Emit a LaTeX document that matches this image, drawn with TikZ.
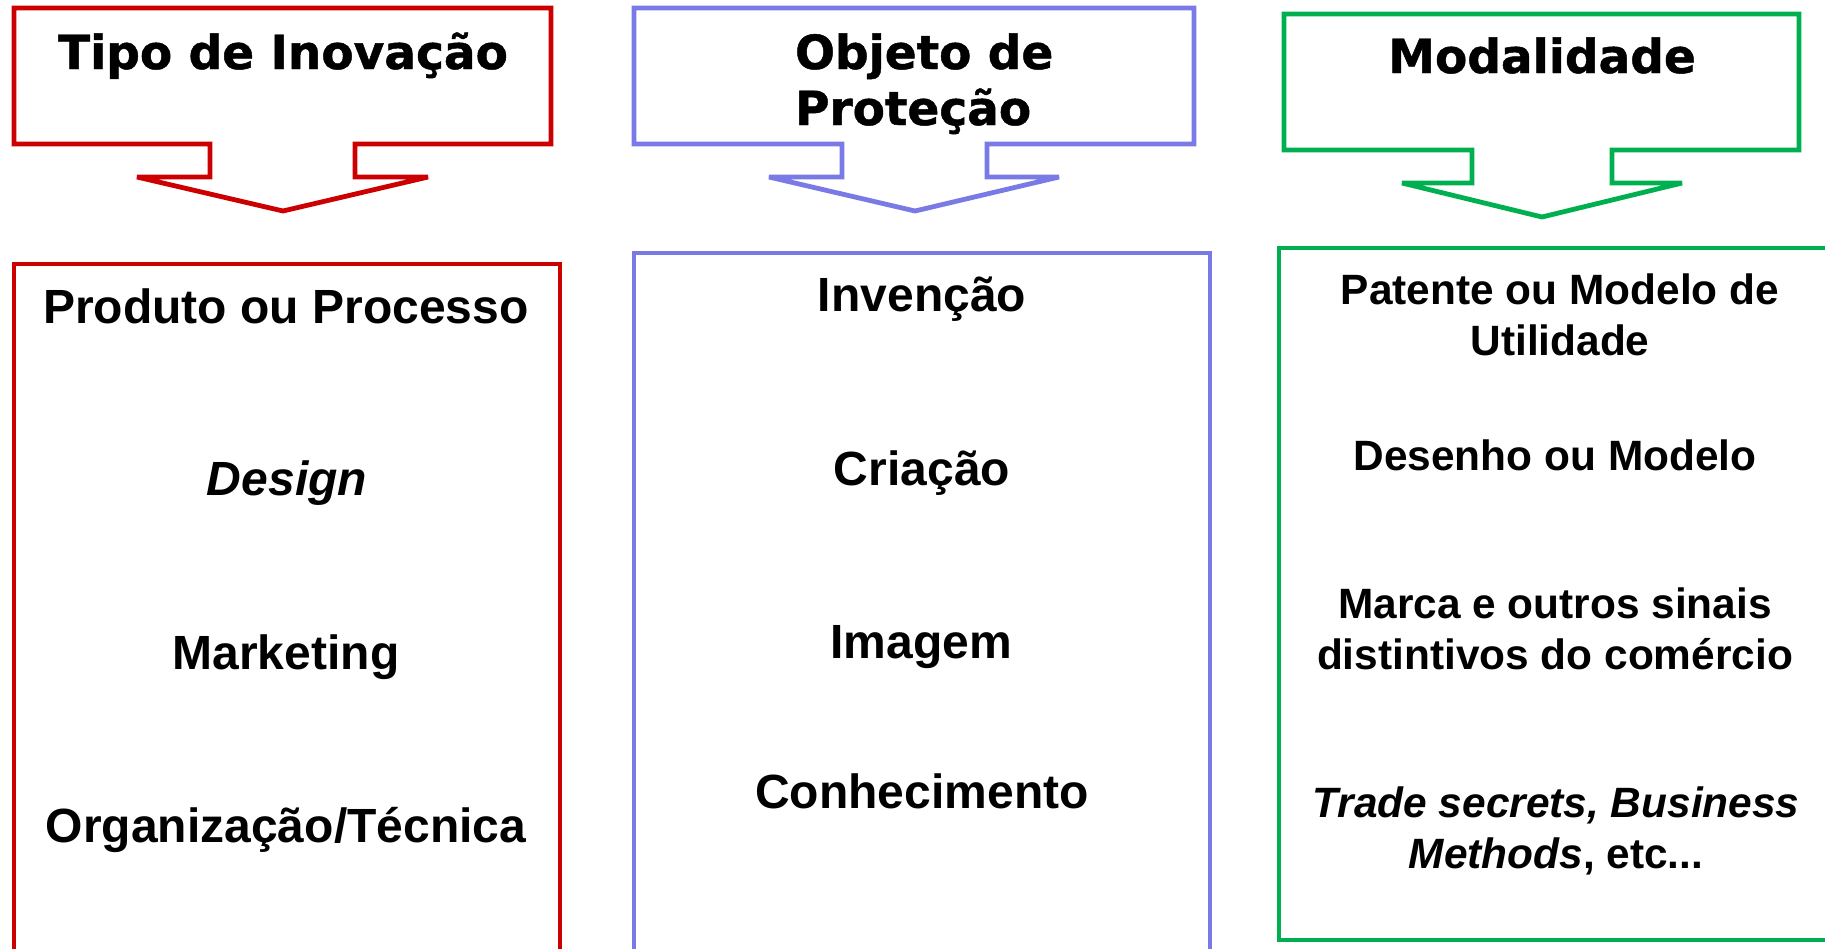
\documentclass[tikz,border=0pt]{standalone}
\usepackage{fontspec}
\setmainfont{Liberation Sans}
\newfontfamily\headfont[FakeBold=1]{DejaVu Sans Bold}
\usepackage{tikz}

\definecolor{inovred}{RGB}{204,0,0}
\definecolor{objblue}{RGB}{122,122,230}
\definecolor{modgreen}{RGB}{0,176,80}

\begin{document}
\begin{tikzpicture}[x=0.5pt,y=-0.5pt,line width=2.4pt,miter limit=3,
    head/.style={font=\headfont\fontsize{23.5}{28}\selectfont,anchor=base},
    item/.style={font=\bfseries\fontsize{24}{29}\selectfont,anchor=base},
    mod/.style={font=\bfseries\fontsize{21.2}{25.5}\selectfont,anchor=base,align=center}]
        \useasboundingbox (0,0) rectangle (1825,948);
        \clip (0,0) rectangle (1825,948);
        % headers with arrow
        \draw[inovred] (14,8) -- (551,8) -- (551,144) -- (355,144) -- (355,177) -- (428,177)
            -- (283,211) -- (137,177) -- (210,177) -- (210,144) -- (14,144) -- cycle;
        \draw[objblue] (634,8) -- (1194,8) -- (1194,144) -- (987,144) -- (987,177) -- (1059,177)
            -- (915,211) -- (769,177) -- (842,177) -- (842,144) -- (634,144) -- cycle;
        \draw[modgreen] (1284,14) -- (1799,14) -- (1799,150) -- (1612,150) -- (1612,183) -- (1682,183)
            -- (1542,217) -- (1402,183) -- (1472,183) -- (1472,150) -- (1284,150) -- cycle;
        % lower boxes
        \draw[inovred] (14,264) rectangle (560,1000);
        \draw[objblue] (634,253) rectangle (1210,1000);
        \draw[modgreen] (1279,248) rectangle (1900,940);
        \node[head] (tipo) at (283,69) {Tipo de Inovação};
        \node[head,anchor=base west,align=left] (objeto) at (786,125) {Objeto de\\Proteção};
        \node[head] (modal) at (1542,73) {Modalidade};
        \node[item] (prod) at (286,323) {Produto ou Processo};
        \node[item] (design) at (287,495) {\itshape Design};
        \node[item] (mkt) at (286,669) {Marketing};
        \node[item] (org) at (286,842) {Organização/Técnica};
        \node[item] (inv) at (922,311) {Invenção};
        \node[item] (cria) at (922,485) {Criação};
        \node[item] (img) at (921,658) {Imagem};
        \node[item] (conh) at (922,808) {Conhecimento};
        \node[mod] (pat) at (1560,355) {Patente ou Modelo de\\Utilidade};
        \node[mod] (des) at (1555,470) {Desenho ou Modelo};
        \node[mod] (marca) at (1555,669) {Marca e outros sinais\\distintivos do comércio};
        \node[mod] (trade) at (1556,868) {\itshape Trade secrets, Business\\\itshape Methods\/\upshape, etc...};
    \end{tikzpicture}
\end{document}
